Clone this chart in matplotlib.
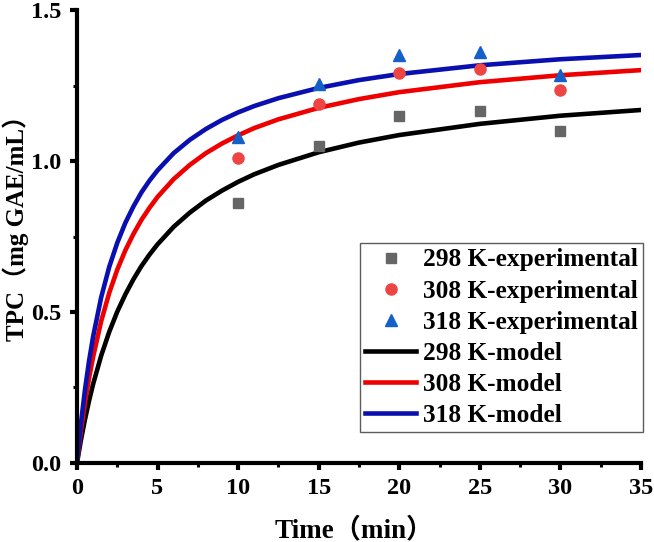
import matplotlib
matplotlib.use("Agg")
import matplotlib.pyplot as plt
from matplotlib.ticker import MultipleLocator

# Experimental data
t_exp = [10, 15, 20, 25, 30]
exp_298 = [0.86, 1.05, 1.15, 1.165, 1.10]
exp_308 = [1.01, 1.19, 1.29, 1.305, 1.235]
exp_318 = [1.08, 1.255, 1.35, 1.36, 1.285]

# Model curves
t_model = [0, 0.25, 0.5, 0.75, 1, 1.5, 2, 2.5, 3, 3.5, 4, 4.5, 5, 6, 7, 8, 9, 10, 11,
           12.5, 15, 17.5, 20, 25, 30, 35]
model_298 = [0, 0.077, 0.145, 0.206, 0.261, 0.355, 0.434, 0.501, 0.558, 0.608, 0.652,
             0.690, 0.724, 0.782, 0.829, 0.869, 0.902, 0.931, 0.956,
             0.987, 1.029, 1.061, 1.086, 1.123, 1.150, 1.169]
model_308 = [0, 0.108, 0.201, 0.281, 0.351, 0.469, 0.563, 0.640, 0.704, 0.758, 0.805,
             0.845, 0.881, 0.940, 0.987, 1.026, 1.058, 1.085, 1.109,
             1.138, 1.176, 1.205, 1.228, 1.261, 1.284, 1.301]
model_318 = [0, 0.133, 0.244, 0.338, 0.418, 0.548, 0.649, 0.729, 0.795, 0.849, 0.896,
             0.935, 0.969, 1.026, 1.070, 1.106, 1.136, 1.161, 1.182,
             1.208, 1.242, 1.268, 1.288, 1.317, 1.337, 1.351]

x_ticks = [0, 5, 10, 15, 20, 25, 30, 35]
y_ticks = [0.0, 0.5, 1.0, 1.5]
y_ticklabels = ["0.0", "0.5", "1.0", "1.5"]

FAM = ["Liberation Serif", "Noto Sans CJK SC"]
plt.rcParams["font.family"] = FAM
plt.rcParams["font.weight"] = "bold"

fig = plt.figure(figsize=(6.54, 5.42), dpi=100)
ax = fig.add_axes([0.1177, 0.1458, 0.8623, 0.8357])

ax.plot(t_exp, exp_298, linestyle="none", marker="s", color="#666666", markersize=7.5,
        label="298 K-experimental", zorder=3)
ax.plot(t_exp, exp_308, linestyle="none", marker="o", color="#ee4444", markersize=8,
        label="308 K-experimental", zorder=3)
ax.plot(t_exp, exp_318, linestyle="none", marker="^", color="#1560c8", markersize=8.5,
        label="318 K-experimental", zorder=3)
ax.plot(t_model, model_298, color="black", linewidth=3.3, label="298 K-model", zorder=2)
ax.plot(t_model, model_308, color="#ee0000", linewidth=3.3, label="308 K-model", zorder=2)
ax.plot(t_model, model_318, color="#0a10b0", linewidth=3.3, label="318 K-model", zorder=2)

ax.set_xlim(0, 35)
ax.set_ylim(0, 1.5)
ax.set_xticks(x_ticks)
ax.set_yticks(y_ticks)
ax.set_yticklabels(y_ticklabels)
ax.xaxis.set_minor_locator(MultipleLocator(2.5))
ax.yaxis.set_minor_locator(MultipleLocator(0.25))

for s in ["top", "right"]:
    ax.spines[s].set_visible(False)
for s in ["left", "bottom"]:
    ax.spines[s].set_linewidth(3.0)

ax.tick_params(which="major", direction="out", length=5, width=3.0, labelsize=17.5, pad=6)
ax.tick_params(which="minor", direction="out", length=3, width=2.2)
for lab in ax.get_xticklabels() + ax.get_yticklabels():
    lab.set_fontweight("bold")

ax.set_xlabel("Time（min）", fontsize=19.5, fontweight="bold", va="center")
ax.set_ylabel("TPC（mg GAE/mL）", fontsize=18, fontweight="bold", va="center")
ax.xaxis.set_label_coords(0.491, -0.148)
ax.yaxis.set_label_coords(-0.108, 0.532)

leg = ax.legend(loc="lower right", bbox_to_anchor=(1.003, 0.068), borderaxespad=0,
                prop={"family": FAM, "weight": "bold", "size": 18.3},
                frameon=True, fancybox=False, edgecolor="#333333",
                handlelength=2.0, handletextpad=0.25, labelspacing=0.32,
                borderpad=0.2)
leg.get_frame().set_linewidth(1.0)

fig.savefig("out.png", dpi=100)
